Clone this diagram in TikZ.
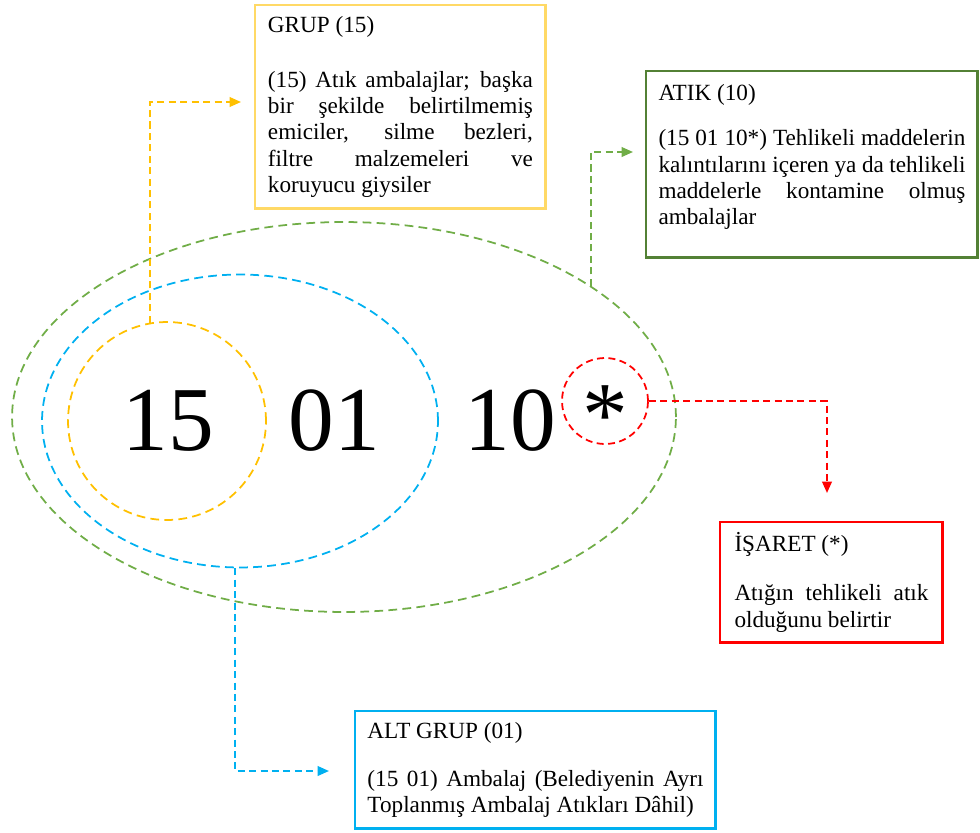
\documentclass[tikz,border=0pt]{standalone}
\usepackage{fontspec}
\setmainfont{Liberation Serif}
\usepackage{tikz}
\usetikzlibrary{positioning}
\usetikzlibrary{shapes.geometric}
\usetikzlibrary{arrows.meta}
\definecolor{grupline}{HTML}{FFC000}
\definecolor{grupbox}{HTML}{FFD966}
\definecolor{atikline}{HTML}{70AD47}
\definecolor{atikbox}{HTML}{538135}
\definecolor{altline}{HTML}{00B0F0}
\definecolor{isaretline}{HTML}{FF0000}
\tikzset{
    numtext/.style = {inner sep=0pt, anchor=base, font=\fontsize{52pt}{52pt}\selectfont},
    ringg/.style = {ellipse, draw=atikline, line width=1pt, dash pattern=on 5pt off 3pt},
    ringb/.style = {ellipse, draw=altline, line width=1pt, dash pattern=on 5pt off 3pt},
    ringy/.style = {circle, draw=grupline, line width=1pt, dash pattern=on 5pt off 3pt},
    ringr/.style = {circle, draw=isaretline, line width=1pt, dash pattern=on 4pt off 2.5pt},
    infobox/.style = {rectangle, anchor=north west, line width=1.7pt, align=justify, inner ysep=0pt, font=\fontsize{13.2pt}{15pt}\selectfont},
}

\begin{document}
\begin{tikzpicture}[
	x=0.02cm, y=-0.02cm
]
\tikzset{
    edgey/.style = {-{Triangle[length=6.5pt,width=5.5pt]}, line width=1.1pt, dash pattern=on 4pt off 2.5pt, grupline},
    edgeg/.style = {-{Triangle[length=6.5pt,width=5.5pt]}, line width=1.1pt, dash pattern=on 4pt off 2.5pt, atikline},
    edgeb/.style = {-{Triangle[length=6.5pt,width=5.5pt]}, line width=1.1pt, dash pattern=on 4pt off 2.5pt, altline},
    edger/.style = {-{Triangle[length=6.5pt,width=5.5pt]}, line width=1.1pt, dash pattern=on 4pt off 2.5pt, isaretline},
}
\useasboundingbox (0,0) rectangle (980,832);
%
\node[ringg, minimum width=13.28cm, minimum height=7.8cm] (gell) at (344,417) {};
\node[ringb, minimum width=7.92cm, minimum height=5.86cm] (bell) at (240,421) {};
\node[ringy, minimum size=3.96cm] (ycirc) at (167,421) {};
\node[ringr, minimum size=1.72cm] (rcirc) at (605,401) {};
%
\node[numtext] (n15) at (168,450) {15};
\node[numtext] (n01) at (334,450) {01};
\node[numtext] (n10) at (510,450) {10};
\node[numtext] (nst) at (605,445) {*};
%
\node[infobox, draw=grupbox, text width=5.30cm, inner xsep=0.26cm, minimum height=4.08cm] (ybox) at (253.5,3.5)
  {GRUP (15)\par\vspace{16pt}(15) Atık ambalajlar; başka\linebreak bir şekilde belirtilmemiş\linebreak emiciler, silme bezleri,\linebreak filtre malzemeleri ve\linebreak koruyucu giysiler};
\node[infobox, draw=atikbox, text width=6.14cm, inner xsep=0.25cm, minimum height=3.74cm] (gbox) at (644.5,69.5)
  {ATIK (10)\par\vspace{10.5pt}(15 01 10*) Tehlikeli maddelerin\linebreak kalıntılarını içeren ya da tehlikeli\linebreak maddelerle kontamine olmuş\linebreak ambalajlar\par\vspace{-4pt}\mbox{}};
\node[infobox, draw=isaretline, text width=3.88cm, inner xsep=0.29cm, minimum height=2.42cm] (rbox) at (718.5,520.5)
  {İŞARET (*)\par\vspace{13pt}Atığın tehlikeli atık\linebreak olduğunu belirtir};
\node[infobox, draw=altline, text width=6.72cm, inner xsep=0.25cm, minimum height=2.36cm] (bbox) at (353.5,709.5)
  {ALT GRUP (01)\par\vspace{12pt}(15 01) Ambalaj (Belediyenin Ayrı\linebreak Toplanmış Ambalaj Atıkları Dâhil)};
%
\coordinate (ytip) at (241,102);
\coordinate (gtip) at (633,152);
\coordinate (rtip) at (827,493);
\coordinate (btip) at (329,771);
\draw[edgey] (ycirc.100) |- (ytip);
\draw[edgeg] (gell.28) |- (gtip);
\draw[edger] (rcirc.east) -| (rtip);
\draw[edgeb] (bell.-92) |- (btip);
\end{tikzpicture}
\end{document}
